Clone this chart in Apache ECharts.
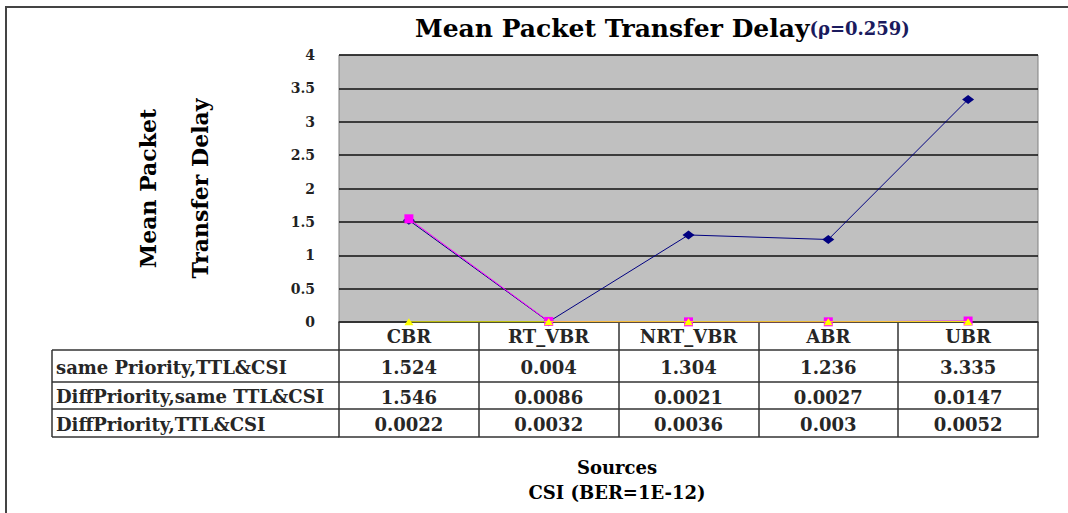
<!DOCTYPE html>
<html>
<head>
<meta charset="utf-8">
<script src="https://cdn.jsdelivr.net/npm/echarts@6/dist/echarts.min.js"></script>
<style>
  html, body { margin: 0; padding: 0; background: #fff; }
  #chart { width: 1068px; height: 513px; }
</style>
</head>
<body>
<div id="chart"></div>
<script>
// 数据
var categories = ['CBR', 'RT_VBR', 'NRT_VBR', 'ABR', 'UBR'];
var seriesNames = ['same Priority,TTL&CSI', 'DiffPriority,same TTL&CSI', 'DiffPriority,TTL&CSI'];
var samePriority = [1.524, 0.004, 1.304, 1.236, 3.335];
var diffPrioritySameTtl = [1.546, 0.0086, 0.0021, 0.0027, 0.0147];
var diffPriorityTtl = [0.0022, 0.0032, 0.0036, 0.003, 0.0052];
var yTicks = [0, 0.5, 1, 1.5, 2, 2.5, 3, 3.5, 4];

var font = 'DejaVu Serif';
var seriesColors = ['#000080', '#FF00FF', '#FFFF00'];
var tableValues = [samePriority, diffPrioritySameTtl, diffPriorityTtl];

// 表格布局 (px)
var plotLeft = 339, plotRight = 1038, plotTop = 55, plotBottom = 322;
var rowTops = [350, 382, 409];
var tableBottom = 437;
var tableLeft = 52;
var tableFontSize = 18;

// 数据表的每一行用一个 x 轴画出来
function rowAxis(rowIndex) {
  var top = rowTops[rowIndex];
  var bottom = rowIndex < rowTops.length - 1 ? rowTops[rowIndex + 1] : tableBottom;
  var h = bottom - top;
  return {
    type: 'category',
    position: 'bottom',
    offset: top - plotBottom,
    data: categories,
    boundaryGap: true,
    axisLine: { show: true, lineStyle: { color: '#333', width: 1.5 } },
    axisTick: { show: true, interval: 0, length: h, lineStyle: { color: '#333', width: 1.5 } },
    axisLabel: {
      interval: 0,
      margin: Math.round(h / 2 - tableFontSize / 2) + 1,
      fontFamily: font,
      fontSize: tableFontSize,
      fontWeight: 'bold',
      color: '#262626',
      formatter: function (v, i) { return String(tableValues[rowIndex][i]); }
    },
    splitLine: { show: false }
  };
}

// 左边一列的框线和文字
var tableGraphics = [];
var hLines = rowTops.concat([tableBottom]);
hLines.forEach(function (y) {
  tableGraphics.push({
    type: 'line',
    shape: { x1: tableLeft, y1: y, x2: plotLeft, y2: y },
    style: { stroke: '#333', lineWidth: 1.5 }
  });
});
tableGraphics.push({
  type: 'line',
  shape: { x1: tableLeft, y1: rowTops[0], x2: tableLeft, y2: tableBottom },
  style: { stroke: '#333', lineWidth: 1.5 }
});
seriesNames.forEach(function (name, i) {
  var bottom = i < rowTops.length - 1 ? rowTops[i + 1] : tableBottom;
  tableGraphics.push({
    type: 'text',
    x: tableLeft + 4,
    y: (rowTops[i] + bottom) / 2 + 1,
    style: { text: name, font: 'bold ' + tableFontSize + 'px "' + font + '"', fill: '#262626', align: 'left', verticalAlign: 'middle' }
  });
});
// 外框
tableGraphics.push({
  type: 'rect',
  shape: { x: 6, y: 7, width: 1300, height: 700 },
  style: { fill: 'none', stroke: '#444', lineWidth: 2 },
  z: -1
});
// x 轴名称
tableGraphics.push({
  type: 'text',
  x: 617,
  y: 455,
  style: {
    text: 'Sources\nCSI (BER=1E-12)',
    font: 'bold 18px "' + font + '"',
    fill: '#000',
    align: 'center',
    verticalAlign: 'top',
    lineHeight: 25
  }
});

var chart = echarts.init(document.getElementById('chart'), null, { renderer: 'svg' });

var option = {
  animation: false,
  backgroundColor: '#fff',
  title: {
    left: 410,
    top: 11,
    text: '{a|Mean Packet Transfer Delay}{b|(ρ=0.259)}',
    textStyle: {
      rich: {
        a: { fontFamily: font, fontSize: 25, fontWeight: 'bold', color: '#000' },
        b: { fontFamily: font, fontSize: 18, fontWeight: 'bold', color: '#1b1b5e' }
      }
    }
  },
  grid: {
    left: plotLeft,
    right: 1068 - plotRight,
    top: plotTop,
    bottom: 513 - plotBottom,
    show: true,
    backgroundColor: '#C0C0C0',
    borderColor: '#808080',
    borderWidth: 1
  },
  xAxis: [{
    type: 'category',
    position: 'bottom',
    data: categories,
    boundaryGap: true,
    axisLine: { show: true, lineStyle: { color: '#333', width: 1.5 } },
    axisTick: { show: true, interval: 0, length: rowTops[0] - plotBottom, lineStyle: { color: '#333', width: 1.5 } },
    axisLabel: { interval: 0, margin: 5, fontFamily: font, fontSize: tableFontSize, fontWeight: 'bold', color: '#262626' },
    splitLine: { show: false }
  }, rowAxis(0), rowAxis(1), rowAxis(2), {
    type: 'category',
    position: 'bottom',
    offset: tableBottom - plotBottom,
    data: categories,
    axisLine: { show: true, lineStyle: { color: '#333', width: 1.5 } },
    axisTick: { show: false },
    axisLabel: { show: false }
  }],
  yAxis: {
    type: 'value',
    min: yTicks[0],
    max: yTicks[yTicks.length - 1],
    interval: 0.5,
    axisLine: { show: false },
    axisTick: { show: false },
    axisLabel: { margin: 24, fontFamily: font, fontSize: 14, fontWeight: 'bold', color: '#222' },
    splitLine: { show: true, lineStyle: { color: '#111', width: 1.5 } },
    name: 'Mean Packet\nTransfer Delay',
    nameLocation: 'middle',
    nameRotate: 90,
    nameGap: 113,
    nameTextStyle: { fontFamily: font, fontSize: 22, fontWeight: 'bold', color: '#000', lineHeight: 52 }
  },
  series: [{
    name: seriesNames[0],
    type: 'line',
    data: samePriority,
    symbol: 'diamond',
    symbolSize: [12, 9],
    itemStyle: { color: seriesColors[0] },
    lineStyle: { color: seriesColors[0], width: 1 },
    z: 3
  }, {
    name: seriesNames[1],
    type: 'line',
    data: diffPrioritySameTtl,
    symbol: 'rect',
    symbolSize: 9,
    itemStyle: { color: seriesColors[1] },
    lineStyle: { color: seriesColors[1], width: 1 },
    z: 4
  }, {
    name: seriesNames[2],
    type: 'line',
    data: diffPriorityTtl,
    symbol: 'triangle',
    symbolSize: [9, 7],
    itemStyle: { color: seriesColors[2] },
    lineStyle: { color: seriesColors[2], width: 1 },
    z: 5
  }],
  graphic: tableGraphics
};

chart.setOption(option);
</script>
</body>
</html>
